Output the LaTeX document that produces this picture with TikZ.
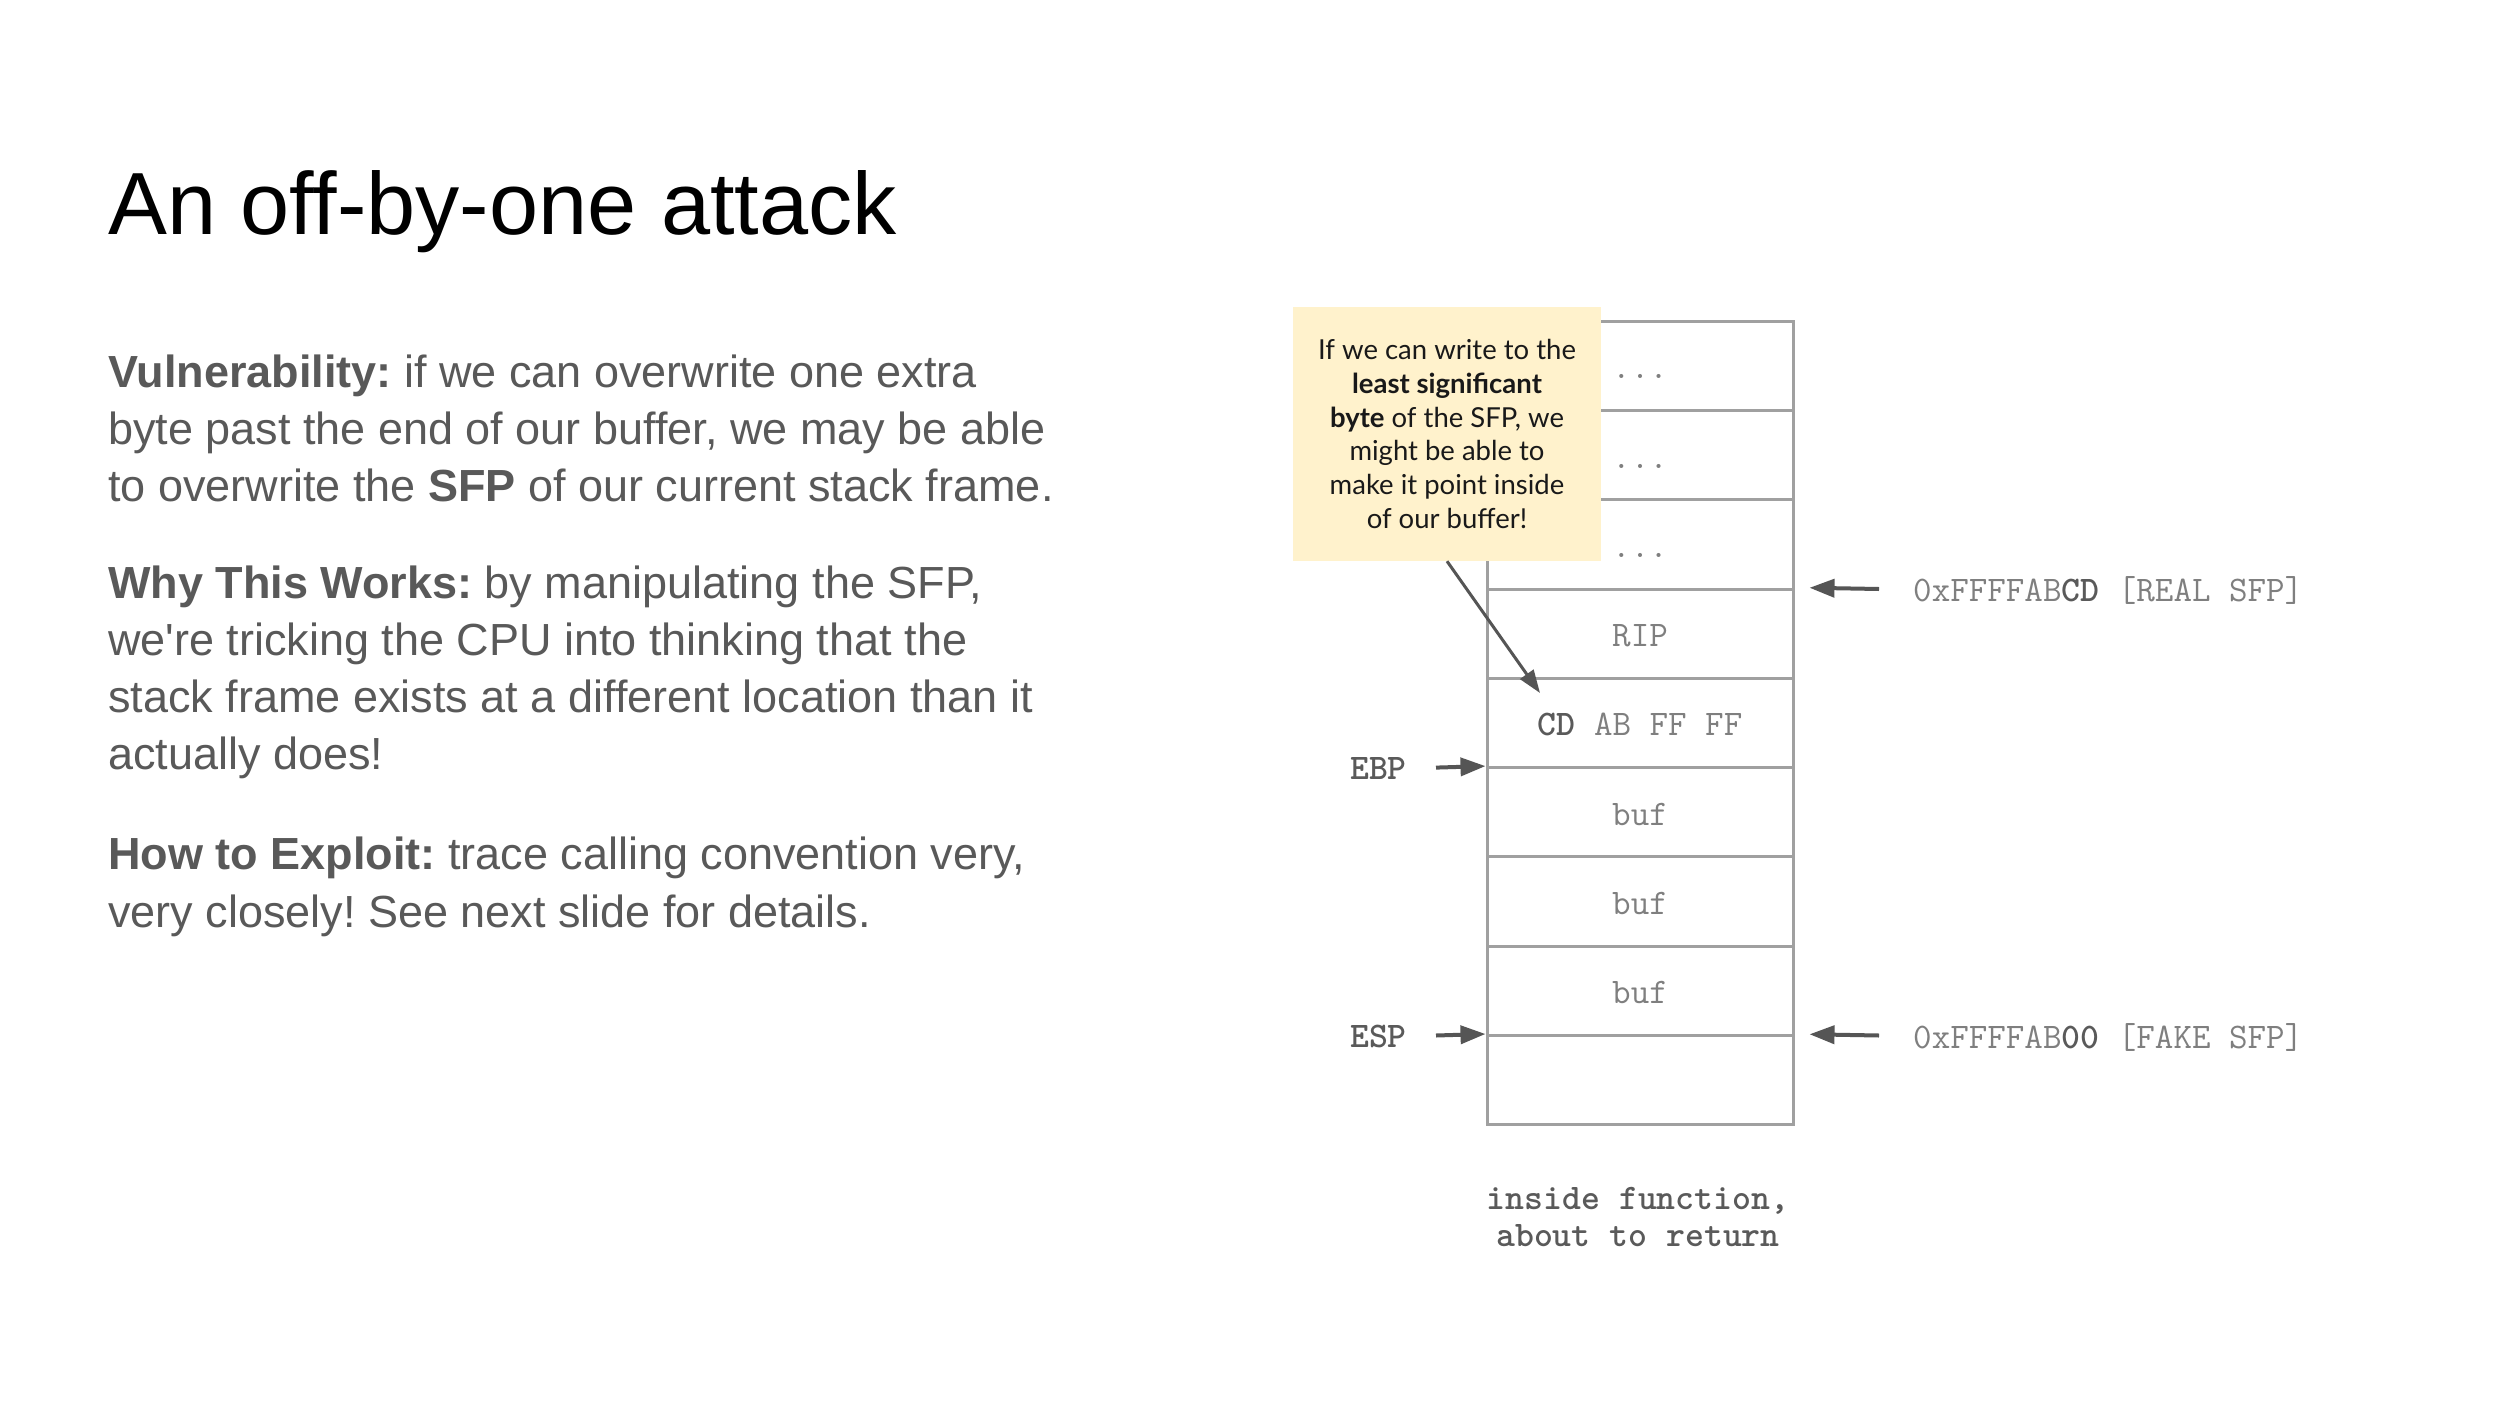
\documentclass[tikz,border=0pt]{standalone}
\usepackage{fontspec}
\setmainfont{Liberation Sans}
\newfontfamily\notefont{Lato}
\usetikzlibrary{arrows.meta}
\frenchspacing

\definecolor{bodygray}{HTML}{595959}
\definecolor{stackgray}{HTML}{A0A0A0}
\definecolor{monogray}{HTML}{7F7F7F}
\definecolor{monodark}{HTML}{5A5A5A}
\definecolor{ptrgray}{HTML}{555555}
\definecolor{notefill}{HTML}{FFF2CC}

\tikzset{
  body/.style={anchor=base west, inner sep=0pt, text=bodygray,
    font=\fontsize{45}{54}\selectfont},
  mono/.style={font=\ttfamily\fontsize{36}{40}\selectfont},
  slot/.style={mono, draw=stackgray, line width=3pt, text=monogray,
    minimum width=306pt, minimum height=89.3pt, inner sep=0pt,
    text height=26pt, text depth=0pt},
  reglabel/.style={mono, anchor=base east, inner sep=0pt, text=monodark,
    font=\ttfamily\bfseries\fontsize{36}{40}\selectfont},
  addrlabel/.style={mono, anchor=base west, inner sep=0pt, text=monogray},
  ptr/.style={draw=ptrgray, line width=4pt,
    -{Triangle[length=25pt,width=18pt]}},
  noteptr/.style={draw=ptrgray, line width=3pt,
    -{Triangle[length=23pt,width=16pt]}},
  note/.style={fill=notefill, inner sep=0pt, align=center,
    minimum width=308pt, minimum height=254pt, text=black!90,
    font=\notefont\fontsize{27.5}{33.8}\selectfont},
}

\begin{document}
\begin{tikzpicture}[x=1pt, y=-1pt]
  % page
  \useasboundingbox (0,0) rectangle (2518,1418);
  \fill[white] (0,0) rectangle (2518,1418);

  % title
  \node[anchor=base west, inner sep=0pt, font=\fontsize{88.3}{100}\selectfont]
    (title) at (108,234) {An off-by-one attack};

  % explanation paragraphs
  \node[body] (p1a) at (108,387) {\textbf{Vulnerability:} if we can overwrite one extra};
  \node[body] (p1b) at (108,444) {byte past the end of our buffer, we may be able};
  \node[body] (p1c) at (108,501) {to overwrite the \textbf{SFP} of our current stack frame.};

  \node[body] (p2a) at (108,598) {\textbf{Why This Works:} by manipulating the SFP,};
  \node[body] (p2b) at (108,655) {we\textquotesingle re tricking the CPU into thinking that the};
  \node[body] (p2c) at (108,712) {stack frame exists at a different location than it};
  \node[body] (p2d) at (108,769) {actually does!};

  \node[body] (p3a) at (108,869) {\textbf{How to Exploit:} trace calling convention very,};
  \node[body] (p3b) at (108,927) {very closely! See next slide for details.};

  % stack slots, top to bottom
  \node[slot] (r1) at (1640,365.75)  {...};
  \node[slot] (r2) at (1640,455.05)  {...};
  \node[slot] (r3) at (1640,544.35)  {...};
  \node[slot] (r4) at (1640,633.65)  {RIP};
  \node[slot] (r5) at (1640,722.95)  {{\color{monodark}\bfseries CD} AB FF FF};
  \node[slot] (r6) at (1640,812.25)  {buf};
  \node[slot] (r7) at (1640,901.55)  {buf};
  \node[slot] (r8) at (1640,990.85)  {buf};
  \node[slot] (r9) at (1640,1080.15) {};

  % register pointers on the left
  \node[reglabel] (ebp) at (1407,779)  {EBP};
  \node[reglabel] (esp) at (1407,1047) {ESP};
  \coordinate (ebptail) at (1436,767.6);
  \coordinate (esptail) at (1436,1035.5);
  \draw[ptr] (ebptail) -- (r6.north west);
  \draw[ptr] (esptail) -- (r9.north west);

  % saved frame pointer addresses on the right
  \node[addrlabel] (real) at (1913,601)
    {0xFFFFAB{\color{monodark}\bfseries CD} [REAL SFP]};
  \node[addrlabel] (fake) at (1913,1048)
    {0xFFFFAB{\color{monodark}\bfseries 00} [FAKE SFP]};
  \coordinate (realtail) at (1879,589);
  \coordinate (faketail) at (1879,1035.5);
  \draw[ptr, shorten >=15pt] (realtail) -- (r4.north east);
  \draw[ptr, shorten >=15pt] (faketail) -- (r9.north east);

  % caption under the stack
  \node[mono, anchor=base, inner sep=0pt, text=monodark,
    font=\ttfamily\bfseries\fontsize{36}{40}\selectfont]
    (cap1) at (1638,1209) {inside function,};
  \node[mono, anchor=base, inner sep=0pt, text=monodark,
    font=\ttfamily\bfseries\fontsize{36}{40}\selectfont]
    (cap2) at (1638,1246) {about to return};

  % callout about the least significant byte
  \node[note] (callout) at (1447,434)
    {If we can write to the\\
     \textbf{least significant}\\
     \textbf{byte} of the SFP, we\\
     might be able to\\
     make it point inside\\
     of our buffer!};
  \coordinate (lsb) at (1540,693);
  \draw[noteptr] (callout.south) -- (lsb);
\end{tikzpicture}
\end{document}
